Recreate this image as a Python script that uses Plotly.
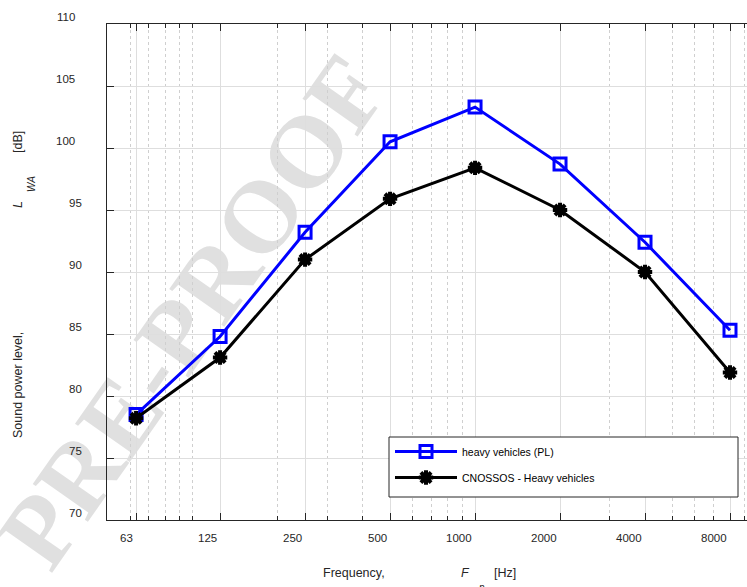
import numpy as np
import plotly.graph_objects as go

# Octave-band centre frequencies [Hz] and their labels
freq = [63, 125, 250, 500, 1000, 2000, 4000, 8000]
freq_labels = ["63", "125", "250", "500", "1000", "2000", "4000", "8000"]

# Sound power level L_WA [dB]
lwa_pl = [78.5, 84.8, 93.2, 100.5, 103.3, 98.7, 92.4, 85.3]
lwa_cnossos = [78.2, 83.1, 91.0, 95.9, 98.4, 95.0, 90.0, 81.9]

y_ticks = [70, 75, 80, 85, 90, 95, 100, 105, 110]
y_labels = [str(v) for v in y_ticks]

# log-scale minor grid positions (decade subdivisions)
minor_freq = [60, 70, 80, 90, 100, 200, 300, 400, 500, 600, 700, 800, 900,
              2000, 3000, 4000, 5000, 6000, 7000, 8000, 9000]
minor_freq = [f for f in minor_freq if f not in freq]

W, H = 747, 587
ML, MR, MT, MB = 107, 0, 24, 67
PW, PH = W - ML - MR, H - MT - MB


def px_x(px):
    return (px - ML) / PW


def px_y(py):
    return (H - MB - py) / PH


AX = "#262626"
FONT = "Liberation Sans, Arial, sans-serif"

fig = go.Figure()

fig.add_trace(go.Scatter(
    x=freq, y=lwa_pl, mode="lines+markers", name="heavy vehicles (PL)",
    legendgroup="a",
    line=dict(color="#0000ff", width=3),
    marker=dict(symbol="square-open", size=12, color="#0000ff",
                line=dict(color="#0000ff", width=3)),
))
fig.add_trace(go.Scatter(
    x=freq, y=lwa_cnossos, mode="lines+markers", name="CNOSSOS - Heavy vehicles",
    legendgroup="b",
    line=dict(color="#000000", width=3),
    marker=dict(symbol="asterisk-open", size=12, color="#000000",
                line=dict(color="#000000", width=4)),
))

annotations = []
# x tick labels, right-aligned at each tick
for f, lab in zip(freq, freq_labels):
    annotations.append(dict(
        x=np.log10(f), xref="x", y=0, yref="paper", text=lab,
        showarrow=False, xanchor="right", yanchor="top", xshift=-1, yshift=-10,
        font=dict(family=FONT, size=11.5, color=AX)))
# y tick labels
for v, lab in zip(y_ticks, y_labels):
    annotations.append(dict(
        x=0, xref="paper", y=v, yref="y", text=lab,
        showarrow=False, xanchor="right", yanchor="middle",
        xshift=-30 if len(lab) == 3 else -23, yshift=7,
        font=dict(family=FONT, size=11.5, color=AX)))

TF = dict(family=FONT, size=12.5, color=AX)
TFI = dict(family=FONT, size=12.5, color=AX, style="italic")
SUB = dict(family=FONT, size=10, color=AX, style="italic")


def label(px, py, text, font, angle=0):
    return dict(x=px_x(px), y=px_y(py), xref="paper", yref="paper", text=text,
                showarrow=False, xanchor="center", yanchor="middle",
                textangle=angle, font=font)


# x-axis title pieces
annotations += [
    label(354, 573, "Frequency,", TF),
    label(465, 573, "F", TFI),
    label(482, 587, "n", SUB),
    label(505, 573, "[Hz]", TF),
]
# y-axis title pieces
annotations += [
    label(18, 385, "Sound power level,", TF, -90),
    label(18, 205, "L", TFI, -90),
    label(31, 184, "WA", SUB, -90),
    label(18, 142, "[dB]", TF, -90),
]

shapes = [
    # watermark
    dict(type="rect", xref="paper", yref="paper",
         x0=px_x(184), x1=px_x(184), y0=px_y(305), y1=px_y(305),
         line=dict(width=0), layer="between",
         label=dict(text="PRE-PROOF", textangle=-55, textposition="middle center",
                    font=dict(family="Liberation Serif, serif",
                              size=102, color="#e0e0e0", weight="bold"))),
    # legend frame
    dict(type="rect", xref="paper", yref="paper",
         x0=px_x(389), x1=px_x(738), y0=px_y(497), y1=px_y(437),
         line=dict(color=AX, width=1), fillcolor="white", layer="above"),
]

fig.update_layout(
    width=W, height=H,
    margin=dict(l=ML, r=MR, t=MT, b=MB, pad=0),
    paper_bgcolor="white", plot_bgcolor="white",
    font=dict(family=FONT, color=AX),
    showlegend=True,
    legend=dict(x=px_x(390), y=px_y(437), xanchor="left", yanchor="top",
                bgcolor="rgba(0,0,0,0)", borderwidth=0,
                font=dict(family=FONT, size=10.5, color="#000000"),
                itemwidth=62, tracegroupgap=7),
    annotations=annotations,
    shapes=shapes,
    xaxis=dict(
        type="log",
        range=[np.log10(49.7), np.log10(9190)],
        tickmode="array", tickvals=freq, ticktext=freq_labels,
        showticklabels=False,
        ticks="inside", ticklen=7, tickwidth=1, tickcolor=AX,
        showline=True, linecolor=AX, linewidth=1, mirror="ticks",
        showgrid=True, gridcolor="#dedede", gridwidth=1,
        zeroline=False,
        minor=dict(tickvals=minor_freq, ticks="inside", ticklen=4, tickcolor=AX,
                   showgrid=True, gridcolor="#cfcfcf", griddash="dot", gridwidth=1),
    ),
    yaxis=dict(
        range=[70, 110],
        tickmode="array", tickvals=y_ticks, ticktext=y_labels,
        showticklabels=False,
        ticks="inside", ticklen=7, tickwidth=1, tickcolor=AX,
        showline=True, linecolor=AX, linewidth=1, mirror=False,
        showgrid=True, gridcolor="#dedede", gridwidth=1,
        zeroline=False,
    ),
)

fig.write_html("out.html")
